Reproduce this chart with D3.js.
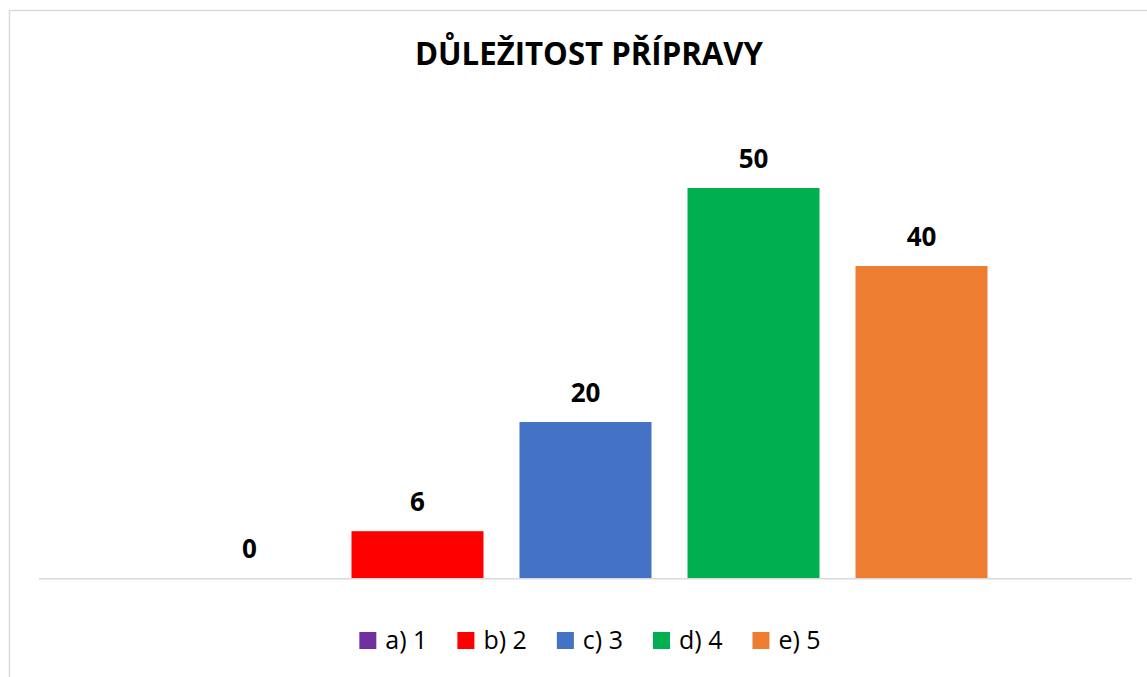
<!DOCTYPE html>
<html>
<head>
<meta charset="utf-8">
<script src="https://cdn.jsdelivr.net/npm/d3@7"></script>
<style>
  html, body { margin: 0; padding: 0; background: #fff; }
  svg { display: block; }
</style>
</head>
<body>
<svg id="chart" width="1147" height="677"></svg>
<script>
// Survey answers: importance of preparation, rated 1–5
const categories = ["a) 1", "b) 2", "c) 3", "d) 4", "e) 5"];
const values = [0, 6, 20, 50, 40];
const colors = ["#7030a0", "#ff0000", "#4472c4", "#00b050", "#ed7d31"];
const title = "DŮLEŽITOST PŘÍPRAVY";

const W = 1147, H = 677;
const plot = { left: 39, right: 1132, top: 110, bottom: 578 };

const svg = d3.select("#chart");

// outer chart frame (runs past the right and bottom edges)
svg.append("rect")
  .attr("x", 9.5).attr("y", 10.5)
  .attr("width", W + 20).attr("height", H + 20)
  .attr("fill", "#fff")
  .attr("stroke", "#d9d9d9").attr("stroke-width", 1.5);

const x = d3.scaleBand()
  .domain(categories)
  .range([plot.left, plot.right])
  .paddingInner(0.2143)
  .paddingOuter(0.86);

const y = d3.scaleLinear()
  .domain([0, 60])
  .range([plot.bottom, plot.top]);

// title
svg.append("text")
  .attr("x", 589).attr("y", 65)
  .attr("text-anchor", "middle")
  .attr("font-family", "'Open Sans', sans-serif")
  .attr("font-weight", 700)
  .attr("font-size", 33)
  .attr("textLength", 348)
  .attr("lengthAdjust", "spacingAndGlyphs")
  .attr("fill", "#000")
  .text(title);

const data = categories.map((c, i) => ({ c, v: values[i], col: colors[i] }));

// bars
svg.append("g").selectAll("rect")
  .data(data)
  .join("rect")
  .attr("x", d => x(d.c))
  .attr("y", d => y(d.v))
  .attr("width", x.bandwidth())
  .attr("height", d => y(0) - y(d.v))
  .attr("fill", d => d.col);

// category axis line
svg.append("line")
  .attr("x1", plot.left).attr("x2", plot.right)
  .attr("y1", y(0) + 0.75).attr("y2", y(0) + 0.75)
  .attr("stroke", "#d9d9d9").attr("stroke-width", 1.5);

// value labels
svg.append("g").selectAll("text")
  .data(data)
  .join("text")
  .attr("x", d => x(d.c) + x.bandwidth() / 2)
  .attr("y", d => y(d.v) - 20)
  .attr("text-anchor", "middle")
  .attr("font-family", "'Open Sans', sans-serif")
  .attr("font-weight", 700)
  .attr("font-size", 26)
  .attr("fill", "#000")
  .text(d => d.v);

// legend
const legend = svg.append("g");
const sq = 17, textGap = 9, itemGap = 30;
const items = legend.selectAll("g")
  .data(data)
  .join("g");
items.append("rect")
  .attr("width", sq).attr("height", sq)
  .attr("y", 632)
  .attr("fill", d => d.col);
items.append("text")
  .attr("x", sq + textGap)
  .attr("y", 649)
  .attr("font-family", "'Open Sans', sans-serif")
  .attr("font-size", 25)
  .attr("fill", "#000")
  .text(d => d.c);

let widths = [];
items.each(function() {
  widths.push(sq + textGap + this.querySelector("text").getComputedTextLength());
});
const total = d3.sum(widths) + itemGap * (widths.length - 1);
let cx = 590 - total / 2;
items.attr("transform", (d, i) => {
  const t = `translate(${cx},0)`;
  cx += widths[i] + itemGap;
  return t;
});
</script>
</body>
</html>
